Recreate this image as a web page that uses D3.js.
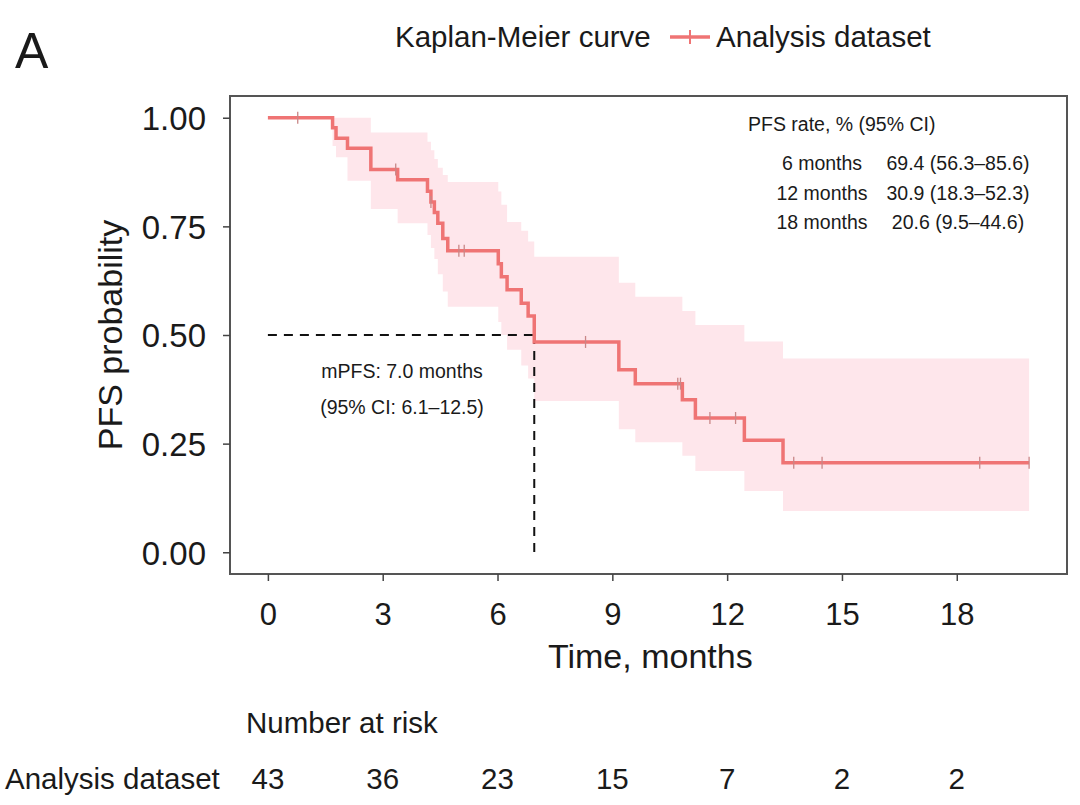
<!DOCTYPE html>
<html>
<head>
<meta charset="utf-8">
<script src="https://cdn.jsdelivr.net/npm/d3@7"></script>
<style>
  body { margin: 0; background: #fff; }
  svg text { font-family: "Liberation Sans", Arial, sans-serif; fill: #1a1a1a; }
</style>
</head>
<body>
<div class="container"></div>
<script>
// KM step function
const stepTimes = [0, 1.69, 1.78, 2.08, 2.69, 3.39, 4.17, 4.26, 4.35, 4.44, 4.57, 4.70, 6.02, 6.10, 6.25, 6.62, 6.80, 6.96, 9.17, 9.60, 10.83, 11.17, 12.45, 13.46, 19.89];
const survival = [1, 0.977, 0.953, 0.930, 0.881, 0.857, 0.831, 0.806, 0.782, 0.757, 0.722, 0.694, 0.664, 0.634, 0.604, 0.573, 0.544, 0.484, 0.420, 0.388, 0.351, 0.309, 0.258, 0.206, 0.206];
const lowerCI = [1, 0.935, 0.909, 0.855, 0.790, 0.757, 0.730, 0.700, 0.675, 0.640, 0.600, 0.565, 0.530, 0.500, 0.466, 0.430, 0.400, 0.348, 0.283, 0.253, 0.222, 0.187, 0.141, 0.095, 0.095];
const upperCI = [1, 1, 1, 1, 0.966, 0.966, 0.945, 0.925, 0.905, 0.885, 0.868, 0.852, 0.830, 0.800, 0.760, 0.740, 0.715, 0.680, 0.620, 0.588, 0.555, 0.523, 0.485, 0.446, 0.446];
const censorTimes = [0.78, 3.34, 4.26, 4.99, 5.13, 8.30, 10.71, 10.78, 11.55, 12.22, 13.74, 14.48, 18.60, 19.89];

const xTicks = [0, 3, 6, 9, 12, 15, 18];
const yTicks = [0, 0.25, 0.5, 0.75, 1];
const atRisk = [43, 36, 23, 15, 7, 2, 2];
const medianTime = 6.96;

const rateLabels = ['6 months', '12 months', '18 months'];
const rateValues = ['69.4 (56.3\u201385.6)', '30.9 (18.3\u201352.3)', '20.6 (9.5\u201344.6)'];

const lineColor = '#ef7474';
const bandColor = '#fee6eb';

const render = () => {
  const width = 1080;
  const height = 805;
  const frame = { left: 230, right: 1067, top: 96, bottom: 574 };

  const svg = d3.select('.container').append('svg').attr('width', width).attr('height', height);

  const xScale = d3.scaleLinear().domain([-0.99, 20.88]).range([frame.left, frame.right]);
  const yScale = d3.scaleLinear().domain([-0.05, 1.05]).range([frame.bottom, frame.top]);

  const km = stepTimes.map((t, i) => ({ t, s: survival[i], lo: lowerCI[i], hi: upperCI[i] }));

  const stepAt = t => {
    const i = d3.bisectRight(stepTimes, t) - 1;
    return survival[Math.max(0, i)];
  };

  // confidence band
  const area = d3
    .area()
    .curve(d3.curveStepAfter)
    .x(d => xScale(d.t))
    .y0(d => yScale(d.lo))
    .y1(d => yScale(d.hi));
  svg.append('path').attr('d', area(km)).attr('fill', bandColor);

  // median lines
  const dash = svg.append('g').attr('stroke', '#111').attr('stroke-width', 2).attr('stroke-dasharray', '9,7');
  dash
    .append('line')
    .attr('x1', xScale(0))
    .attr('x2', xScale(medianTime))
    .attr('y1', yScale(0.5))
    .attr('y2', yScale(0.5));
  dash
    .append('line')
    .attr('x1', xScale(medianTime))
    .attr('x2', xScale(medianTime))
    .attr('y1', yScale(0.5))
    .attr('y2', yScale(0));

  // KM curve
  const line = d3
    .line()
    .curve(d3.curveStepAfter)
    .x(d => xScale(d.t))
    .y(d => yScale(d.s));
  svg
    .append('path')
    .attr('d', line(km))
    .attr('fill', 'none')
    .attr('stroke', lineColor)
    .attr('stroke-width', 3.5);

  // censor marks
  svg
    .append('g')
    .selectAll('line')
    .data(censorTimes)
    .enter()
    .append('line')
    .attr('x1', d => xScale(d))
    .attr('x2', d => xScale(d))
    .attr('y1', d => yScale(stepAt(d)) - 6)
    .attr('y2', d => yScale(stepAt(d)) + 6)
    .attr('stroke', '#c98787')
    .attr('stroke-width', 1.3);

  // frame
  svg
    .append('rect')
    .attr('x', frame.left)
    .attr('y', frame.top)
    .attr('width', frame.right - frame.left)
    .attr('height', frame.bottom - frame.top)
    .attr('fill', 'none')
    .attr('stroke', '#555')
    .attr('stroke-width', 2);

  // axes
  const bottomAxis = d3.axisBottom(xScale).tickValues(xTicks).tickSize(7).tickPadding(22);
  const bottomGroup = svg.append('g').attr('transform', `translate(0,${frame.bottom})`).call(bottomAxis);
  const leftAxis = d3.axisLeft(yScale).tickValues(yTicks).tickSize(7).tickPadding(17).tickFormat(d3.format('.2f'));
  const leftGroup = svg.append('g').attr('transform', `translate(${frame.left},0)`).call(leftAxis);
  [bottomGroup, leftGroup].forEach(g => {
    g.select('.domain').remove();
    g.selectAll('.tick line').attr('stroke', '#444').attr('stroke-width', 1.5);
    g.selectAll('.tick text').attr('font-size', 31).attr('fill', '#1a1a1a');
  });
  leftGroup.selectAll('.tick text').attr('font-size', 33).attr('dy', '0.36em');

  svg
    .append('text')
    .text('Time, months')
    .attr('x', (xScale(0) + xScale(18)) / 2 + 38)
    .attr('y', 668)
    .attr('text-anchor', 'middle')
    .attr('font-size', 34);

  svg
    .append('text')
    .text('PFS probability')
    .attr('transform', `translate(122,${yScale(0.5)}) rotate(-90)`)
    .attr('text-anchor', 'middle')
    .attr('font-size', 34);

  // panel letter and legend
  svg.append('text').text('A').attr('x', 15).attr('y', 68).attr('font-size', 50);
  svg.append('text').text('Kaplan-Meier curve').attr('x', 395).attr('y', 47).attr('font-size', 29.5);
  svg.append('line').attr('x1', 670).attr('x2', 710).attr('y1', 37).attr('y2', 37).attr('stroke', lineColor).attr('stroke-width', 3.5);
  svg.append('line').attr('x1', 690).attr('x2', 690).attr('y1', 30).attr('y2', 44).attr('stroke', lineColor).attr('stroke-width', 2);
  svg.append('text').text('Analysis dataset').attr('x', 716).attr('y', 47).attr('font-size', 29.5);

  // PFS rate table
  svg.append('text').text('PFS rate, % (95% CI)').attr('x', 748).attr('y', 131).attr('font-size', 19.5);
  const rateRows = svg.append('g');
  rateLabels.forEach((label, i) => {
    rateRows.append('text').text(label).attr('x', 822).attr('y', 170 + i * 29.5).attr('text-anchor', 'middle').attr('font-size', 19.5);
    rateRows.append('text').text(rateValues[i]).attr('x', 958).attr('y', 170 + i * 29.5).attr('text-anchor', 'middle').attr('font-size', 19.5);
  });

  // median annotation
  svg.append('text').text('mPFS: 7.0 months').attr('x', 402).attr('y', 378).attr('text-anchor', 'middle').attr('font-size', 19.5);
  svg.append('text').text('(95% CI: 6.1\u201312.5)').attr('x', 402).attr('y', 414).attr('text-anchor', 'middle').attr('font-size', 19.5);

  // number at risk
  svg.append('text').text('Number at risk').attr('x', 246).attr('y', 733).attr('font-size', 29.5);
  svg.append('text').text('Analysis dataset').attr('x', 5).attr('y', 789).attr('font-size', 29.5);
  svg
    .append('g')
    .selectAll('text')
    .data(atRisk)
    .enter()
    .append('text')
    .text(d => d)
    .attr('x', (d, i) => xScale(xTicks[i]))
    .attr('y', 789)
    .attr('text-anchor', 'middle')
    .attr('font-size', 29.5);
};

render();
</script>
</body>
</html>
